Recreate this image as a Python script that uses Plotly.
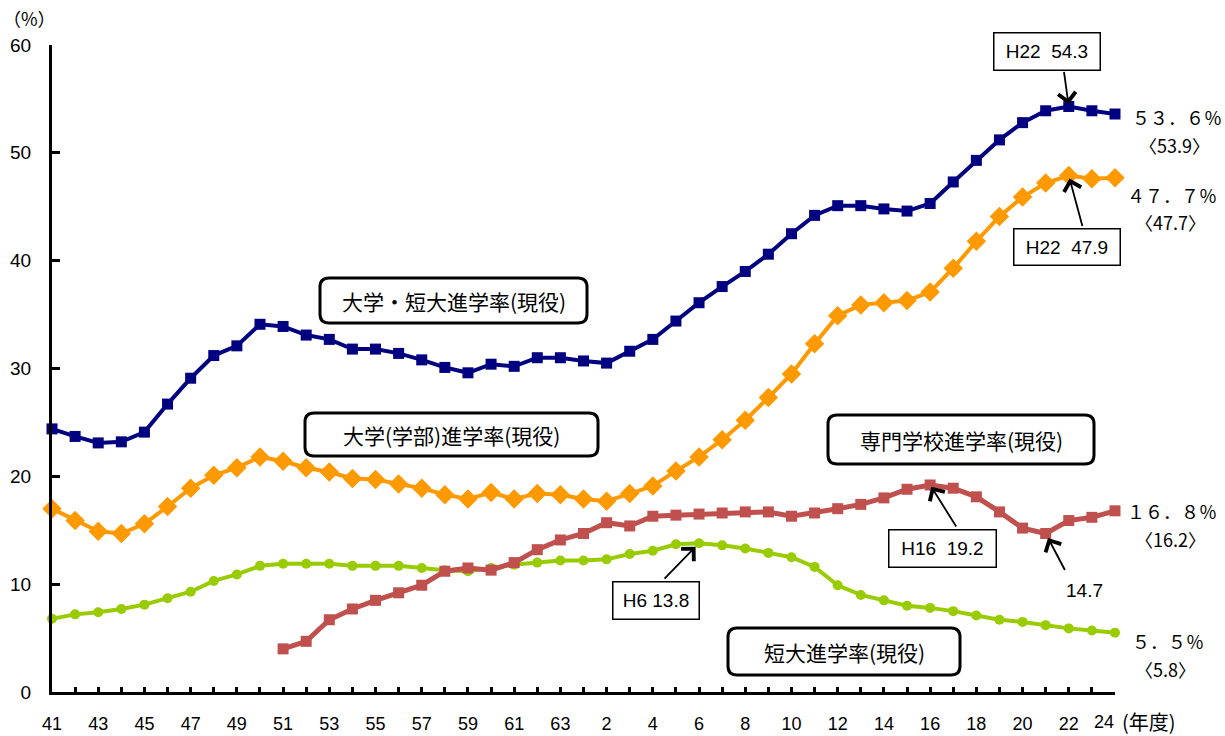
import plotly.graph_objects as go

# ---- data ----
showa = [str(y) for y in range(41, 64)]          # S41..S63
heisei = [str(y) for y in range(1, 25)]          # H1..H24
years = showa + heisei

univ_jc = [24.4, 23.7, 23.1, 23.2, 24.1, 26.7, 29.1, 31.2, 32.1, 34.1,
           33.9, 33.1, 32.7, 31.8, 31.8, 31.4, 30.8, 30.1, 29.6, 30.4,
           30.2, 31.0, 31.0, 30.7, 30.5, 31.6, 32.7, 34.4, 36.1, 37.6,
           39.0, 40.6, 42.5, 44.2, 45.1, 45.1, 44.8, 44.6, 45.3, 47.3,
           49.3, 51.2, 52.8, 53.9, 54.3, 53.9, 53.6]
univ = [17.0, 15.9, 14.9, 14.7, 15.6, 17.2, 18.9, 20.1, 20.8, 21.8,
        21.4, 20.8, 20.4, 19.8, 19.7, 19.3, 18.9, 18.3, 17.9, 18.5,
        17.9, 18.4, 18.3, 17.9, 17.7, 18.4, 19.1, 20.5, 21.8, 23.4,
        25.2, 27.3, 29.5, 32.3, 34.9, 35.9, 36.1, 36.3, 37.1, 39.3,
        41.8, 44.1, 45.9, 47.2, 47.9, 47.6, 47.7]
junior = [6.8, 7.2, 7.4, 7.7, 8.1, 8.7, 9.3, 10.3, 10.9, 11.7,
          11.9, 11.9, 11.9, 11.7, 11.7, 11.7, 11.5, 11.3, 11.2, 11.5,
          11.8, 12.0, 12.2, 12.2, 12.3, 12.8, 13.1, 13.7, 13.8, 13.6,
          13.3, 12.9, 12.5, 11.6, 9.9, 9.0, 8.5, 8.0, 7.8, 7.5,
          7.1, 6.7, 6.5, 6.2, 5.9, 5.7, 5.5]
senmon = [None] * 10 + [4.0, 4.7, 6.7, 7.7, 8.5, 9.2, 9.9, 11.2, 11.5, 11.3,
                        12.0, 13.2, 14.1, 14.7, 15.7, 15.4, 16.3, 16.4, 16.5, 16.6,
                        16.7, 16.7, 16.3, 16.6, 17.0, 17.4, 18.0, 18.8, 19.2, 18.9,
                        18.1, 16.7, 15.2, 14.7, 15.9, 16.2, 16.8]

tick_labels = [y if i % 2 == 0 else "" for i, y in enumerate(years)]
xidx = list(range(len(years)))

# ---- layout geometry (pixels) ----
L, R, T, B = 52, 1115, 45, 692
W, H = R - L, B - T
JP = "Noto Sans CJK JP"
LAT = "Liberation Sans, Arial, Noto Sans CJK JP"


def px(x):
    return (x - L) / W


def py(y):
    return (B - y) / H


def rrect(x0, y0, x1, y1, r):
    pts = [
        f"M{px(x0 + r)},{py(y0)}", f"L{px(x1 - r)},{py(y0)}",
        f"Q{px(x1)},{py(y0)} {px(x1)},{py(y0 + r)}", f"L{px(x1)},{py(y1 - r)}",
        f"Q{px(x1)},{py(y1)} {px(x1 - r)},{py(y1)}", f"L{px(x0 + r)},{py(y1)}",
        f"Q{px(x0)},{py(y1)} {px(x0)},{py(y1 - r)}", f"L{px(x0)},{py(y0 + r)}",
        f"Q{px(x0)},{py(y0)} {px(x0 + r)},{py(y0)}", "Z",
    ]
    return " ".join(pts)


fig = go.Figure()

fig.add_trace(go.Scatter(x=xidx, y=junior, mode="lines+markers", name="短大進学率(現役)",
                         line=dict(color="#99CC00", width=4),
                         marker=dict(symbol="circle", size=10, color="#99CC00"),
                         cliponaxis=False))
fig.add_trace(go.Scatter(x=xidx, y=senmon, mode="lines+markers", name="専門学校進学率(現役)",
                         line=dict(color="#C0504D", width=5),
                         marker=dict(symbol="square", size=11, color="#C0504D"),
                         cliponaxis=False))
fig.add_trace(go.Scatter(x=xidx, y=univ, mode="lines+markers", name="大学(学部)進学率(現役)",
                         line=dict(color="#FF9900", width=4),
                         marker=dict(symbol="diamond", size=15, color="#FF9900"),
                         cliponaxis=False))
fig.add_trace(go.Scatter(x=xidx, y=univ_jc, mode="lines+markers", name="大学・短大進学率(現役)",
                         line=dict(color="#000080", width=4),
                         marker=dict(symbol="square", size=11, color="#000080"),
                         cliponaxis=False))

shapes = []
annotations = []

boxes = [
    ("大学・短大進学率(現役)", 320, 278, 587, 323),
    ("大学(学部)進学率(現役)", 305, 413, 598, 456),
    ("専門学校進学率(現役)", 828, 415, 1094, 464),
    ("短大進学率(現役)", 728, 628, 960, 675),
]
for text, x0, y0, x1, y1 in boxes:
    shapes.append(dict(type="path", xref="paper", yref="paper",
                       path=rrect(x0, y0, x1, y1, 9),
                       line=dict(color="black", width=3), fillcolor="white", layer="above"))
    annotations.append(dict(text=text, xref="paper", yref="paper",
                            x=px((x0 + x1) / 2), y=py((y0 + y1) / 2),
                            xanchor="center", yanchor="middle", showarrow=False,
                            font=dict(family=JP, size=21, color="black")))

callouts = [
    ("H22  54.3", 993, 33, 1100, 71),
    ("H22  47.9", 1013, 229, 1120, 266),
    ("H6 13.8", 612, 581, 699, 619),
    ("H16  19.2", 888, 529, 996, 567),
]
for text, x0, y0, x1, y1 in callouts:
    annotations.append(dict(text=text, xref="paper", yref="paper",
                            x=px((x0 + x1) / 2), y=py((y0 + y1) / 2),
                            xanchor="center", yanchor="middle", showarrow=False,
                            width=x1 - x0 - 2, height=y1 - y0 - 2, borderpad=0,
                            bordercolor="black", borderwidth=1.5, bgcolor="white",
                            font=dict(family=LAT, size=19, color="black")))
annotations.append(dict(text="14.7", xref="paper", yref="paper", x=px(1084), y=py(590),
                        xanchor="center", yanchor="middle", showarrow=False,
                        font=dict(family=LAT, size=19, color="black")))

arrows = [
    (44, univ_jc[44], -5, -36, 2),
    (44, univ[44], 14, 52, 3),
    (28, junior[28], -36, 37, 5),
    (38, senmon[38], 27, 43, 2),
    (43, senmon[43], 20, 38, 5),
]
for xi, yv, ax, ay, so in arrows:
    annotations.append(dict(text="", x=xi, y=yv, xref="x", yref="y", ax=ax, ay=ay,
                            showarrow=True, arrowhead=4, arrowsize=1.9, arrowwidth=1.8,
                            arrowcolor="black", standoff=so))

ends = [
    ("５３．６％", 1177, 117), ("〈53.9〉", 1174, 145),
    ("４７．７％", 1172, 195), ("〈47.7〉", 1170, 222),
    ("１６．８％", 1172, 511), ("〈16.2〉", 1170, 539),
    ("５．５％", 1168, 641), ("〈5.8〉", 1165, 669),
]
for text, cx, cy in ends:
    annotations.append(dict(text=text, xref="paper", yref="paper", x=px(cx), y=py(cy),
                            xanchor="center", yanchor="middle", showarrow=False,
                            font=dict(family=JP, size=18, color="black")))

annotations.append(dict(text="（%）", xref="paper", yref="paper", x=px(29), y=py(18),
                        xanchor="center", yanchor="middle", showarrow=False,
                        font=dict(family=JP, size=18, color="black")))
# last category label sits left of its tick, followed by the unit
shown_ticks = tick_labels[:-1] + [""]
annotations.append(dict(text=tick_labels[-1], xref="paper", yref="paper", x=px(1116), y=py(722),
                        xanchor="right", yanchor="middle", showarrow=False,
                        font=dict(family=LAT, size=18, color="black")))
annotations.append(dict(text="(年度)", xref="paper", yref="paper", x=px(1120), y=py(721),
                        xanchor="left", yanchor="middle", showarrow=False,
                        font=dict(family=JP, size=20, color="black")))

fig.update_layout(
    width=1225, height=736, autosize=False,
    margin=dict(l=L, r=1225 - R, t=T, b=736 - B, pad=0, autoexpand=False),
    paper_bgcolor="white", plot_bgcolor="white",
    showlegend=False,
    shapes=shapes, annotations=annotations,
    xaxis=dict(range=[0, len(years) - 1], automargin=False,
               tickmode="array", tickvals=xidx, ticktext=shown_ticks,
               ticks="inside", ticklen=5, tickwidth=2.5, tickcolor="black",
               showline=True, linecolor="black", linewidth=3,
               showgrid=False, zeroline=False, ticklabelstandoff=13,
               tickfont=dict(family=LAT, size=18, color="black")),
    yaxis=dict(range=[0, 60], dtick=10, tick0=0, automargin=False,
               ticks="inside", ticklen=8, tickwidth=2.5, tickcolor="black",
               showline=True, linecolor="black", linewidth=3,
               showgrid=False, zeroline=False, ticklabelstandoff=14,
               tickfont=dict(family=LAT, size=19, color="black")),
)

fig.write_html("out.html", config={"responsive": False, "displayModeBar": False},
               post_script="document.body.style.margin='0';")
